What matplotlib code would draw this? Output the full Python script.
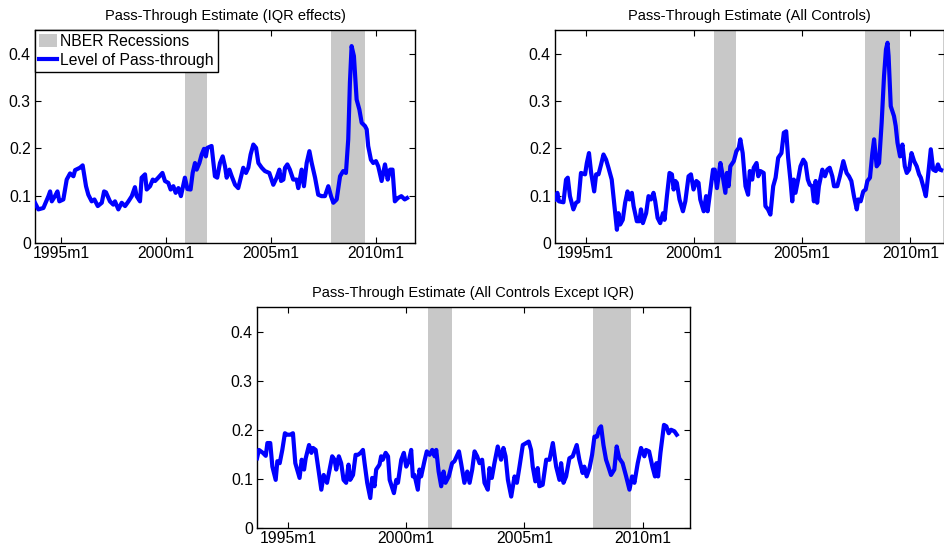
import matplotlib
matplotlib.use("Agg")
import matplotlib.pyplot as plt
from matplotlib.patches import Patch
from matplotlib.lines import Line2D

plt.rcParams['font.family'] = ['Liberation Sans', 'DejaVu Sans']

# ---------------- data (decimal years, pass-through level) ----------------
iqr_dates = [1993.76, 1993.92, 1994.16, 1994.40, 1994.48, 1994.56, 1994.71, 1994.83, 1994.92,
             1995.11, 1995.27, 1995.43, 1995.59, 1995.67, 1995.90, 1996.03, 1996.19, 1996.30,
             1996.46, 1996.59, 1996.75, 1996.94, 1997.05, 1997.14, 1997.33, 1997.49, 1997.57,
             1997.73, 1997.89, 1998.05, 1998.21, 1998.37, 1998.52, 1998.60, 1998.76, 1998.84,
             1999.00, 1999.08, 1999.24, 1999.37, 1999.48, 1999.63, 1999.83, 1999.95, 2000.11,
             2000.22, 2000.35, 2000.46, 2000.59, 2000.71, 2000.90, 2001.02, 2001.17, 2001.27,
             2001.38, 2001.46, 2001.59, 2001.70, 2001.81, 2001.90, 2001.97, 2002.17, 2002.33,
             2002.44, 2002.57, 2002.70, 2002.81, 2002.89, 2003.02, 2003.13, 2003.29, 2003.44,
             2003.68, 2003.81, 2003.92, 2004.03, 2004.16, 2004.29, 2004.40, 2004.56, 2004.71,
             2004.92, 2005.11, 2005.27, 2005.40, 2005.48, 2005.59, 2005.67, 2005.78, 2005.90,
             2006.06, 2006.22, 2006.30, 2006.46, 2006.57, 2006.70, 2006.83, 2006.94, 2007.10,
             2007.25, 2007.41, 2007.57, 2007.73, 2007.86, 2007.97, 2008.13, 2008.29, 2008.44,
             2008.57, 2008.68, 2008.76, 2008.84, 2008.95, 2009.08, 2009.21, 2009.32, 2009.48,
             2009.56, 2009.63, 2009.76, 2009.87, 2010.00, 2010.11, 2010.27, 2010.43, 2010.56,
             2010.67, 2010.79, 2010.90, 2011.05, 2011.21, 2011.37, 2011.48]
iqr_vals = [0.085, 0.071, 0.074, 0.099, 0.109, 0.088, 0.099, 0.109, 0.088,
            0.092, 0.134, 0.147, 0.141, 0.154, 0.159, 0.164, 0.120, 0.102,
            0.088, 0.092, 0.078, 0.085, 0.109, 0.107, 0.088, 0.081, 0.088,
            0.071, 0.085, 0.078, 0.088, 0.099, 0.118, 0.099, 0.088, 0.138,
            0.145, 0.113, 0.120, 0.134, 0.131, 0.138, 0.148, 0.131, 0.127,
            0.113, 0.120, 0.106, 0.116, 0.099, 0.138, 0.114, 0.113, 0.148,
            0.169, 0.155, 0.169, 0.187, 0.199, 0.183, 0.201, 0.205, 0.141,
            0.138, 0.169, 0.183, 0.162, 0.138, 0.155, 0.141, 0.123, 0.116,
            0.159, 0.148, 0.159, 0.187, 0.208, 0.201, 0.169, 0.159, 0.152,
            0.148, 0.123, 0.138, 0.155, 0.131, 0.134, 0.159, 0.166, 0.155,
            0.134, 0.134, 0.116, 0.155, 0.120, 0.169, 0.194, 0.169, 0.138,
            0.102, 0.099, 0.099, 0.120, 0.099, 0.085, 0.092, 0.141, 0.152,
            0.148, 0.219, 0.339, 0.416, 0.395, 0.303, 0.282, 0.254, 0.247,
            0.240, 0.205, 0.176, 0.169, 0.173, 0.162, 0.131, 0.166, 0.134,
            0.155, 0.155, 0.088, 0.095, 0.099, 0.092, 0.095]

all_dates = [1993.58, 1993.69, 1993.76, 1993.97, 1994.09, 1994.17, 1994.27, 1994.43, 1994.55, 1994.66,
             1994.78, 1994.97, 1995.05, 1995.15, 1995.25, 1995.39, 1995.48, 1995.59, 1995.71, 1995.82,
             1995.94, 1996.05, 1996.20, 1996.31, 1996.44, 1996.51, 1996.59, 1996.71, 1996.82, 1996.93,
             1997.02, 1997.13, 1997.21, 1997.36, 1997.48, 1997.55, 1997.64, 1997.79, 1997.90, 1998.01,
             1998.13, 1998.21, 1998.32, 1998.44, 1998.57, 1998.64, 1998.75, 1998.87, 1998.98, 1999.06,
             1999.14, 1999.21, 1999.33, 1999.49, 1999.60, 1999.75, 1999.86, 1999.98, 2000.11, 2000.21,
             2000.29, 2000.45, 2000.56, 2000.63, 2000.76, 2000.88, 2000.96, 2001.06, 2001.22, 2001.29,
             2001.45, 2001.52, 2001.60, 2001.68, 2001.84, 2001.96, 2002.07, 2002.14, 2002.25, 2002.38,
             2002.50, 2002.58, 2002.69, 2002.76, 2002.89, 2002.97, 2003.07, 2003.22, 2003.30, 2003.42,
             2003.53, 2003.66, 2003.77, 2003.89, 2004.04, 2004.15, 2004.26, 2004.35, 2004.46, 2004.54,
             2004.61, 2004.69, 2004.81, 2004.92, 2005.05, 2005.15, 2005.26, 2005.35, 2005.46, 2005.54,
             2005.62, 2005.69, 2005.77, 2005.93, 2006.05, 2006.16, 2006.27, 2006.39, 2006.47, 2006.62,
             2006.74, 2006.90, 2007.05, 2007.16, 2007.27, 2007.39, 2007.52, 2007.59, 2007.70, 2007.82,
             2007.93, 2008.01, 2008.13, 2008.24, 2008.32, 2008.44, 2008.55, 2008.67, 2008.78, 2008.87,
             2008.94, 2008.99, 2009.09, 2009.24, 2009.32, 2009.40, 2009.52, 2009.63, 2009.74, 2009.83,
             2009.94, 2010.05, 2010.17, 2010.29, 2010.40, 2010.48, 2010.59, 2010.71, 2010.78, 2010.94,
             2011.05, 2011.17, 2011.27, 2011.36, 2011.42]
all_vals = [0.092, 0.106, 0.088, 0.086, 0.134, 0.138, 0.099, 0.071, 0.085, 0.088,
            0.148, 0.145, 0.169, 0.190, 0.148, 0.109, 0.145, 0.145, 0.166, 0.187,
            0.176, 0.159, 0.134, 0.085, 0.028, 0.063, 0.039, 0.049, 0.085, 0.109,
            0.092, 0.106, 0.078, 0.046, 0.046, 0.071, 0.042, 0.063, 0.099, 0.092,
            0.106, 0.088, 0.053, 0.042, 0.063, 0.049, 0.099, 0.148, 0.145, 0.113,
            0.131, 0.127, 0.092, 0.067, 0.088, 0.141, 0.145, 0.113, 0.131, 0.127,
            0.092, 0.067, 0.099, 0.067, 0.113, 0.155, 0.155, 0.116, 0.169, 0.152,
            0.106, 0.148, 0.120, 0.162, 0.173, 0.194, 0.201, 0.219, 0.190, 0.120,
            0.102, 0.152, 0.134, 0.159, 0.169, 0.141, 0.152, 0.148, 0.078, 0.071,
            0.060, 0.120, 0.138, 0.180, 0.190, 0.233, 0.236, 0.180, 0.131, 0.088,
            0.134, 0.106, 0.134, 0.162, 0.176, 0.169, 0.134, 0.123, 0.120, 0.088,
            0.131, 0.085, 0.120, 0.155, 0.141, 0.155, 0.159, 0.141, 0.120, 0.120,
            0.141, 0.173, 0.148, 0.141, 0.131, 0.099, 0.071, 0.092, 0.088, 0.109,
            0.113, 0.131, 0.138, 0.190, 0.219, 0.162, 0.169, 0.254, 0.353, 0.409,
            0.423, 0.395, 0.289, 0.268, 0.247, 0.212, 0.183, 0.208, 0.162, 0.148,
            0.155, 0.190, 0.173, 0.162, 0.145, 0.138, 0.120, 0.099, 0.127, 0.198,
            0.155, 0.152, 0.166, 0.155, 0.154]

exiqr_dates = [1993.69, 1993.77, 1993.94, 1994.06, 1994.13, 1994.25, 1994.34, 1994.48, 1994.55, 1994.65,
               1994.76, 1994.87, 1994.97, 1995.10, 1995.21, 1995.31, 1995.49, 1995.58, 1995.68, 1995.75,
               1995.89, 1995.99, 1996.06, 1996.17, 1996.27, 1996.41, 1996.51, 1996.65, 1996.76, 1996.87,
               1996.97, 1997.04, 1997.15, 1997.25, 1997.35, 1997.46, 1997.56, 1997.63, 1997.75, 1997.86,
               1997.96, 1998.07, 1998.17, 1998.24, 1998.35, 1998.48, 1998.56, 1998.66, 1998.73, 1998.87,
               1998.94, 1999.01, 1999.13, 1999.23, 1999.30, 1999.48, 1999.58, 1999.65, 1999.79, 1999.90,
               2000.00, 2000.11, 2000.21, 2000.28, 2000.35, 2000.49, 2000.56, 2000.63, 2000.77, 2000.87,
               2000.99, 2001.10, 2001.20, 2001.27, 2001.37, 2001.48, 2001.58, 2001.66, 2001.80, 2001.94,
               2002.04, 2002.23, 2002.32, 2002.46, 2002.58, 2002.68, 2002.79, 2002.89, 2003.00, 2003.10,
               2003.21, 2003.31, 2003.45, 2003.52, 2003.62, 2003.73, 2003.87, 2004.01, 2004.11, 2004.20,
               2004.30, 2004.44, 2004.58, 2004.68, 2004.79, 2004.93, 2005.07, 2005.18, 2005.28, 2005.35,
               2005.46, 2005.56, 2005.63, 2005.77, 2005.92, 2006.06, 2006.20, 2006.34, 2006.48, 2006.55,
               2006.65, 2006.76, 2006.90, 2007.04, 2007.21, 2007.32, 2007.46, 2007.53, 2007.63, 2007.75,
               2007.86, 2007.96, 2008.07, 2008.17, 2008.24, 2008.34, 2008.45, 2008.52, 2008.66, 2008.80,
               2008.90, 2009.01, 2009.15, 2009.30, 2009.44, 2009.55, 2009.65, 2009.79, 2009.93, 2010.07,
               2010.14, 2010.27, 2010.41, 2010.52, 2010.58, 2010.65, 2010.75, 2010.90, 2011.00, 2011.10,
               2011.20, 2011.34, 2011.44]
exiqr_vals = [0.142, 0.159, 0.153, 0.147, 0.173, 0.173, 0.125, 0.098, 0.136, 0.132,
              0.159, 0.193, 0.190, 0.190, 0.193, 0.132, 0.102, 0.139, 0.119, 0.142,
              0.169, 0.153, 0.163, 0.159, 0.125, 0.078, 0.108, 0.092, 0.119, 0.146,
              0.139, 0.119, 0.146, 0.132, 0.098, 0.092, 0.129, 0.098, 0.108, 0.149,
              0.149, 0.153, 0.159, 0.132, 0.092, 0.061, 0.102, 0.085, 0.119, 0.129,
              0.146, 0.139, 0.153, 0.146, 0.098, 0.071, 0.098, 0.092, 0.139, 0.153,
              0.125, 0.136, 0.159, 0.105, 0.108, 0.078, 0.119, 0.105, 0.136, 0.156,
              0.149, 0.159, 0.146, 0.159, 0.115, 0.085, 0.115, 0.092, 0.105, 0.132,
              0.136, 0.156, 0.132, 0.092, 0.115, 0.092, 0.119, 0.156, 0.146, 0.132,
              0.139, 0.092, 0.078, 0.122, 0.102, 0.132, 0.166, 0.139, 0.163, 0.146,
              0.098, 0.064, 0.105, 0.092, 0.125, 0.169, 0.173, 0.176, 0.159, 0.125,
              0.095, 0.122, 0.085, 0.088, 0.139, 0.139, 0.173, 0.125, 0.098, 0.132,
              0.092, 0.105, 0.142, 0.146, 0.169, 0.139, 0.112, 0.125, 0.105, 0.122,
              0.149, 0.186, 0.186, 0.203, 0.207, 0.169, 0.139, 0.129, 0.108, 0.119,
              0.166, 0.142, 0.132, 0.105, 0.078, 0.105, 0.092, 0.132, 0.163, 0.146,
              0.159, 0.156, 0.125, 0.105, 0.132, 0.105, 0.153, 0.210, 0.207, 0.193,
              0.200, 0.197, 0.190]

recessions = [(2000.92, 2001.95), (2007.88, 2009.50)]
xtick_vals = [1995, 2000, 2005, 2010]
xtick_labels = ["1995m1", "2000m1", "2005m1", "2010m1"]
ytick_vals = [0, 0.1, 0.2, 0.3, 0.4]
ytick_labels = ["0", "0.1", "0.2", "0.3", "0.4"]

titles = ["Pass-Through Estimate (IQR effects)",
          "Pass-Through Estimate (All Controls)",
          "Pass-Through Estimate (All Controls Except IQR)"]

# ---------------- figure ----------------
W, H = 945, 544
fig = plt.figure(figsize=(W / 100, H / 100), dpi=100)

def px_axes(x0, y0, x1, y1):
    return fig.add_axes([x0 / W, 1 - y1 / H, (x1 - x0) / W, (y1 - y0) / H])

panels = [
    (px_axes(35, 30, 415, 243), iqr_dates, iqr_vals, (1993.76, 2011.86)),
    (px_axes(555, 30, 944, 243), all_dates, all_vals, (1993.58, 2011.55)),
    (px_axes(257, 307, 690, 528), exiqr_dates, exiqr_vals, (1993.69, 2012.0)),
]

BLUE = "#0000ff"
GRAY = "#c8c8c8"

for i, (ax, d, v, xl) in enumerate(panels):
    for (a, b) in recessions:
        ax.axvspan(a, b, color=GRAY, lw=0, zorder=1)
    ax.plot(d, v, color=BLUE, lw=3.0, zorder=3, solid_joinstyle='round')
    ax.set_xlim(*xl)
    ax.set_ylim(0, 0.45)
    ax.set_xticks(xtick_vals)
    ax.set_xticklabels(xtick_labels)
    ax.set_yticks(ytick_vals)
    ax.set_yticklabels(ytick_labels)
    ax.tick_params(direction='in', length=4, width=0.8, top=True, right=True,
                   labelsize=11.3, pad=3, colors='black')
    ax.tick_params(axis='x', pad=2)
    for s in ax.spines.values():
        s.set_linewidth(1.0)
        s.set_color('black')
    ax.set_title(titles[i], fontsize=10.5, pad=7)

ax0 = panels[0][0]
handles = [Patch(facecolor=GRAY, edgecolor='none'),
           Line2D([0], [0], color=BLUE, lw=3.0)]
leg = ax0.legend(handles, ["NBER Recessions", "Level of Pass-through"],
                 loc='upper left', borderaxespad=0, fancybox=False,
                 edgecolor='black', framealpha=1, fontsize=11.3,
                 handlelength=1.15, handleheight=0.9, handletextpad=0.2,
                 borderpad=0.25, labelspacing=0.25)
leg.get_frame().set_linewidth(1.0)

fig.savefig("out.png", dpi=100)
